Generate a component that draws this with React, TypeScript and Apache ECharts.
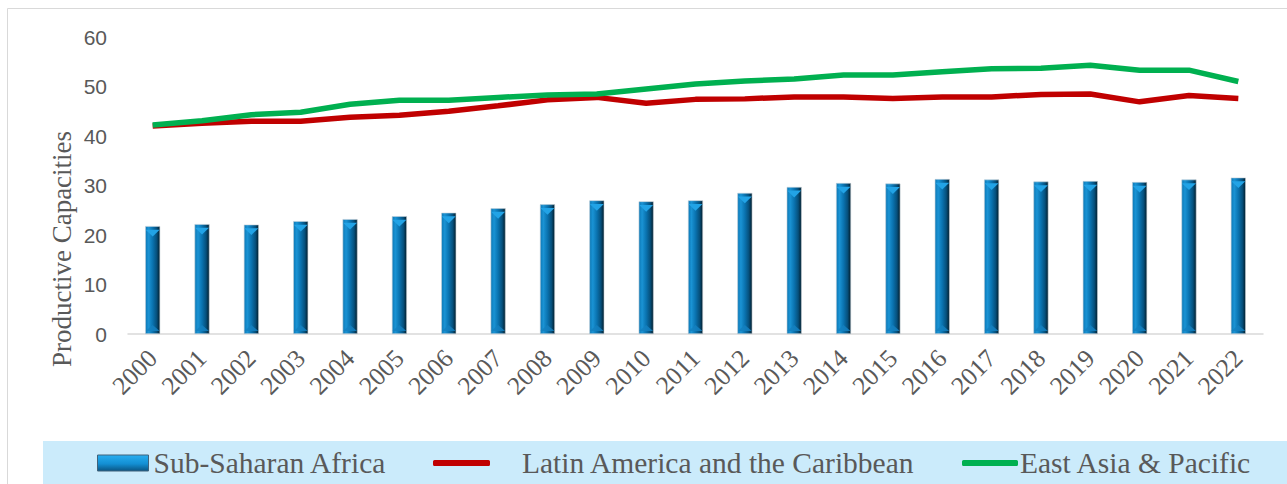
import React, { useEffect, useRef } from "react";
import * as echarts from "echarts";

const years = [
  "2000", "2001", "2002", "2003", "2004", "2005", "2006", "2007", "2008", "2009", "2010", "2011",
  "2012", "2013", "2014", "2015", "2016", "2017", "2018", "2019", "2020", "2021", "2022",
];

const subSaharanAfrica = [
  21.8, 22.2, 22.1, 22.8, 23.2, 23.8, 24.5, 25.4, 26.2, 27.0, 26.8, 27.0,
  28.5, 29.7, 30.5, 30.4, 31.3, 31.2, 30.8, 30.9, 30.7, 31.2, 31.6,
];

const latinAmerica = [
  42.0, 42.6, 43.0, 43.0, 43.8, 44.2, 45.0, 46.1, 47.3, 47.8, 46.6, 47.4,
  47.5, 47.9, 47.9, 47.6, 47.9, 47.9, 48.4, 48.5, 46.9, 48.2, 47.6,
];

const eastAsiaPacific = [
  42.2, 43.1, 44.3, 44.8, 46.4, 47.2, 47.2, 47.8, 48.3, 48.5, 49.5, 50.5,
  51.1, 51.5, 52.3, 52.3, 53.0, 53.6, 53.7, 54.3, 53.3, 53.3, 51.0,
];

const yTicks = { min: 0, max: 60, interval: 10 };

const SERIES_NAMES = ["Sub-Saharan Africa", "Latin America and the Caribbean", "East Asia & Pacific"];

const SERIF = "'Liberation Serif', 'Times New Roman', serif";
const SANS = "'Liberation Sans', Arial, sans-serif";

// Bevelled column body: lit left edge, dark right edge
const barGradient = new echarts.graphic.LinearGradient(0, 0, 1, 0, [
  { offset: 0, color: "#0c78b6" },
  { offset: 0.22, color: "#1a93d4" },
  { offset: 0.5, color: "#0a73b0" },
  { offset: 0.78, color: "#06507c" },
  { offset: 1, color: "#021d2b" },
]);

const legendBarGradient = new echarts.graphic.LinearGradient(0, 0, 0, 1, [
  { offset: 0, color: "#28aef0" },
  { offset: 0.55, color: "#138fd3" },
  { offset: 1, color: "#0a5583" },
]);

const legendText = {
  fontFamily: SERIF,
  fontSize: 29.5,
  color: "#595959",
};

export default function App() {
  const ref = useRef<HTMLDivElement>(null);

  useEffect(() => {
    document.body.style.margin = "0";
    const chart = echarts.init(ref.current!, undefined, { renderer: "svg" });
    chart.setOption({
      animation: false,
      backgroundColor: "#ffffff",
      grid: { left: 128, right: 24, top: 37, bottom: 150, containLabel: false },
      xAxis: {
        type: "category",
        data: years,
        boundaryGap: true,
        axisLine: { lineStyle: { color: "#d9d9d9", width: 1.5 } },
        axisTick: { show: false },
        axisLabel: {
          rotate: 45,
          margin: 20,
          fontFamily: SERIF,
          fontSize: 25.5,
          color: "#595959",
        },
      },
      yAxis: {
        type: "value",
        min: yTicks.min,
        max: yTicks.max,
        interval: yTicks.interval,
        splitLine: { show: false },
        axisLine: { show: false },
        axisTick: { show: false },
        axisLabel: {
          margin: 21,
          fontFamily: SANS,
          fontSize: 21,
          color: "#595959",
        },
      },
      legend: [
        {
          data: [{ name: SERIES_NAMES[0], itemStyle: { color: legendBarGradient, borderColor: "#41627a", borderWidth: 1 } }],
          left: 97,
          top: 448,
          padding: 0,
          icon: "rect",
          itemWidth: 51,
          itemHeight: 16,
          itemGap: 0,
          textStyle: legendText,
        },
        {
          data: [SERIES_NAMES[1]],
          left: 433,
          top: 448,
          padding: 0,
          icon: "roundRect",
          itemWidth: 57,
          itemHeight: 6,
          itemGap: 0,
          textStyle: { ...legendText, padding: [0, 0, 0, 27] },
        },
        {
          data: [SERIES_NAMES[2]],
          left: 962,
          top: 448,
          padding: 0,
          icon: "roundRect",
          itemWidth: 56,
          itemHeight: 6,
          itemGap: 0,
          textStyle: { ...legendText, padding: [0, 0, 0, -3] },
        },
      ],
      graphic: [
        {
          type: "rect",
          z: -10,
          shape: { x: 7.5, y: 8.5, width: 1300, height: 500 },
          style: { fill: "none", stroke: "#d9d9d9", lineWidth: 1 },
        },
        {
          type: "rect",
          z: -5,
          shape: { x: 43, y: 441, width: 1250, height: 43 },
          style: { fill: "#cbebfb" },
        },
        {
          type: "text",
          x: 62,
          y: 249,
          rotation: Math.PI / 2,
          style: {
            text: "Productive Capacities",
            fontFamily: SERIF,
            fontSize: 27,
            fill: "#595959",
            align: "center",
            verticalAlign: "middle",
          },
        },
      ],
      series: [
        {
          name: SERIES_NAMES[0],
          type: "bar",
          data: subSaharanAfrica,
          barWidth: 15,
          itemStyle: { color: barGradient, borderColor: "#c5d0d8", borderWidth: 0.6 },
          z: 2,
        },
        {
          name: "bevel-top",
          type: "pictorialBar",
          data: subSaharanAfrica,
          symbol: "triangle",
          symbolRotate: 180,
          symbolSize: [14, 7],
          symbolPosition: "end",
          symbolOffset: [0, "50%"],
          itemStyle: { color: "#22a3e6" },
          silent: true,
          z: 3,
        },
        {
          name: "bevel-bottom",
          type: "pictorialBar",
          data: subSaharanAfrica,
          symbol: "triangle",
          symbolSize: [14, 6],
          symbolPosition: "start",
          symbolOffset: [0, "-50%"],
          itemStyle: { color: "#1480bf", opacity: 0.85 },
          silent: true,
          z: 3,
        },
        {
          name: SERIES_NAMES[1],
          type: "line",
          data: latinAmerica,
          symbol: "none",
          lineStyle: { color: "#c00000", width: 5.5 },
          itemStyle: { color: "#c00000" },
          z: 4,
        },
        {
          name: SERIES_NAMES[2],
          type: "line",
          data: eastAsiaPacific,
          symbol: "none",
          lineStyle: { color: "#00b050", width: 5.5 },
          itemStyle: { color: "#00b050" },
          z: 5,
        },
      ],
    });
    return () => chart.dispose();
  }, []);

  return <div ref={ref} style={{ width: 1287, height: 484 }} />;
}
